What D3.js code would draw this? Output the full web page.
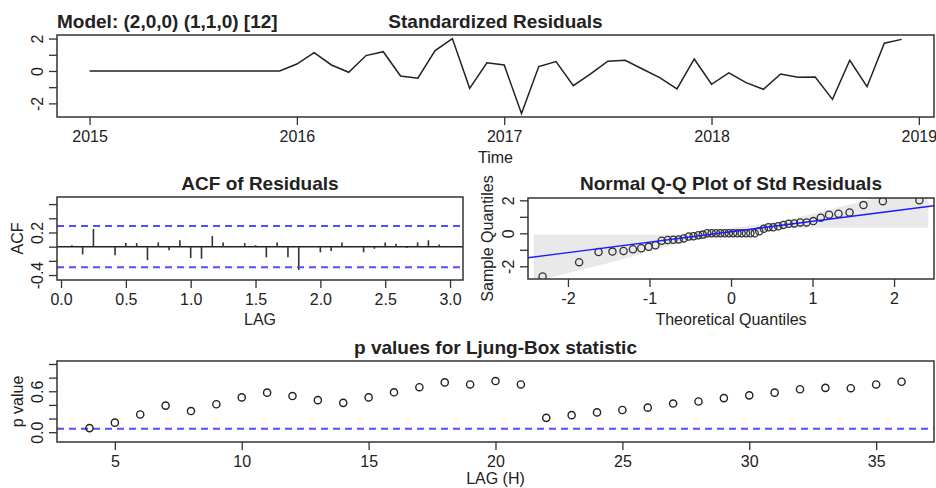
<!DOCTYPE html>
<html>
<head>
<meta charset="utf-8">
<script src="https://cdn.jsdelivr.net/npm/d3@7"></script>
<style>
  body { margin: 0; background: #fff; }
  text { font-family: 'Liberation Sans', Arial, Helvetica, sans-serif; fill: #222; }
</style>
</head>
<body>
<script>
// standardized residuals, monthly from 2015
const startYear = 2015
const resid = [0, 0, 0, 0, 0, 0, 0, 0, 0, 0, 0, 0,
  0.43, 1.13, 0.37, -0.08, 0.95, 1.19, -0.31, -0.45, 1.26, 2.0, -1.07, 0.51,
  0.37, -2.62, 0.27, 0.58, -0.91, -0.18, 0.6, 0.66, 0.12, -0.41, -1.11, 0.74,
  -0.82, -0.12, -0.72, -1.13, -0.19, -0.39, -0.37, -1.75, 0.66, -0.97, 1.71, 1.95]
const yearTicks = [2015, 2016, 2017, 2018, 2019]

// ACF of residuals, lags 1..36 (in years)
const acfVals = [0.02, -0.11, 0.25, 0.01, -0.12, 0.05, 0.05, -0.19, 0.06, -0.05, 0.09, -0.16,
  -0.17, 0.15, 0.06, 0.01, 0.05, 0.02, -0.15, 0.06, -0.15, -0.33, 0.01, -0.08,
  -0.06, 0.06, 0.01, -0.08, -0.03, 0.06, 0.04, -0.02, 0.06, 0.09, 0.03, 0.01]
const acfBound = 0.29
const acfTicks = [0, 0.5, 1, 1.5, 2, 2.5, 3]

// Q-Q line and band
const qqIntercept = 0.095
const qqSlope = 0.633
const bandZ = [-2.42, -2.0, -1.5, -1.0, -0.6, -0.3, 0, 0.3, 0.6, 1.0, 1.5, 2.0, 2.42]
const bandUpper = [-0.08, -0.08, -0.09, -0.09, -0.07, 0.13, 0.32, 0.51, 0.72, 1.17, 1.8, 2.4, 2.95]
const bandLower = [-2.95, -2.4, -1.8, -1.1, -0.52, -0.32, -0.13, 0.07, 0.3, 0.33, 0.33, 0.33, 0.34]

// Ljung-Box p values, lags 4..36
const lbLags = d3.range(4, 37)
const lbP = [0.06, 0.14, 0.26, 0.39, 0.31, 0.41, 0.51, 0.58, 0.53, 0.47, 0.43, 0.51, 0.585,
  0.66, 0.73, 0.70, 0.75, 0.70, 0.21, 0.25, 0.29, 0.325, 0.36, 0.42, 0.45, 0.50,
  0.54, 0.58, 0.63, 0.65, 0.645, 0.70, 0.74]
const lbAlpha = 0.05
const lbTicks = [5, 10, 15, 20, 25, 30, 35]

const width = 936
const height = 488
const tickLen = 8
const dashBlue = 'rgb(80,80,255)'

let svg = d3.select('body').append('svg')
.attr('width', width)
.attr('height', height)

// plain hyphen minus, like R
const num = d => String(d)
const num1 = d => d.toFixed(1)

// inverse normal cdf (Acklam) for theoretical quantiles
const qnorm = p => {
  const a = [-39.69683028665376, 220.9460984245205, -275.9285104469687, 138.3577518672690, -30.66479806614716, 2.506628277459239]
  const b = [-54.47609879822406, 161.5858368580409, -155.6989798598866, 66.80131188771972, -13.28068155288572]
  const c = [-0.007784894002430293, -0.3223964580411365, -2.400758277161838, -2.549732539343734, 4.374664141464968, 2.938163982698783]
  const d = [0.007784695709041462, 0.3224671290700398, 2.445134137142996, 3.754408661907416]
  const pl = 0.02425
  let q, r
  if (p < pl) {
    q = Math.sqrt(-2 * Math.log(p))
    return (((((c[0]*q+c[1])*q+c[2])*q+c[3])*q+c[4])*q+c[5]) / ((((d[0]*q+d[1])*q+d[2])*q+d[3])*q+1)
  }
  if (p > 1 - pl) {
    q = Math.sqrt(-2 * Math.log(1 - p))
    return -(((((c[0]*q+c[1])*q+c[2])*q+c[3])*q+c[4])*q+c[5]) / ((((d[0]*q+d[1])*q+d[2])*q+d[3])*q+1)
  }
  q = p - 0.5
  r = q * q
  return (((((a[0]*r+a[1])*r+a[2])*r+a[3])*r+a[4])*r+a[5])*q / (((((b[0]*r+b[1])*r+b[2])*r+b[3])*r+b[4])*r+1)
}

const panel = (id, x0, x1, y0, y1) => {
  svg.append('clipPath').attr('id', id)
  .append('rect').attr('x', x0).attr('y', y0).attr('width', x1 - x0).attr('height', y1 - y0)
  return svg.append('g').attr('clip-path', 'url(#' + id + ')')
}

const box = (x0, x1, y0, y1) => {
  svg.append('rect')
  .attr('x', x0).attr('y', y0)
  .attr('width', x1 - x0).attr('height', y1 - y0)
  .attr('fill', 'none')
  .attr('stroke', '#333')
  .attr('stroke-width', 1.5)
}

const bottomAxis = (scale, ticks, fmt, yPos) => {
  let g = svg.append('g')
  .attr('transform', 'translate(0,' + yPos + ')')
  .call(d3.axisBottom(scale).tickValues(ticks).tickSize(tickLen).tickPadding(6).tickFormat(fmt))
  g.select('.domain').remove()
  g.selectAll('line').attr('stroke', '#333').attr('stroke-width', 1.3)
  g.selectAll('text').attr('font-size', 16).attr('fill', '#222').attr('font-family', null)
  return g
}

const leftAxis = (scale, ticks, labelled, fmt, xPos) => {
  let g = svg.append('g')
  .attr('transform', 'translate(' + xPos + ',0)')
  .call(d3.axisLeft(scale).tickValues(ticks).tickSize(tickLen)
    .tickFormat(d => labelled.includes(d) ? fmt(d) : ''))
  g.select('.domain').remove()
  g.selectAll('line').attr('stroke', '#333').attr('stroke-width', 1.3)
  g.selectAll('text')
  .attr('font-size', 16).attr('fill', '#222').attr('font-family', null)
  .attr('x', 0).attr('y', -14).attr('dy', 0)
  .attr('text-anchor', 'middle')
  .attr('transform', 'rotate(-90)')
  return g
}

const label = (txt, x, y, opts = {}) => {
  let t = svg.append('text')
  .attr('x', x).attr('y', y)
  .attr('font-size', opts.size || 16)
  .attr('font-weight', opts.bold ? 'bold' : 'normal')
  .attr('text-anchor', opts.anchor || 'middle')
  .text(txt)
  if (opts.rotate) t.attr('transform', 'rotate(-90,' + x + ',' + y + ')')
  return t
}

const hline = (g, scaleX, yVal, dashed, color) => {
  g.append('line')
  .attr('x1', scaleX.range()[0]).attr('x2', scaleX.range()[1])
  .attr('y1', yVal).attr('y2', yVal)
  .attr('stroke', color)
  .attr('stroke-width', dashed ? 2 : 1.5)
  .attr('stroke-dasharray', dashed ? '7,5' : null)
}

// ---------- standardized residuals ----------
let x1 = d3.scaleLinear().domain([2014.843, 2019.073]).range([57, 934])
let y1 = d3.scaleLinear().domain([-2.84, 2.22]).range([117, 35])

let g1 = panel('c1', 57, 934, 35, 117)
g1.append('path')
.datum(resid)
.attr('d', d3.line().x((d, i) => x1(startYear + i / 12)).y(d => y1(d)))
.attr('fill', 'none')
.attr('stroke', '#222')
.attr('stroke-width', 1.5)

box(57, 934, 35, 117)
bottomAxis(x1, yearTicks, num, 117)
leftAxis(y1, [-2, -1, 0, 1, 2], [-2, 0, 2], num, 57)
label('Model: (2,0,0) (1,1,0) [12]', 57, 28, {bold: true, size: 19, anchor: 'start'})
label('Standardized Residuals', 495.5, 28, {bold: true, size: 19})
label('Time', 495.5, 163)

// ---------- ACF ----------
let x2 = d3.scaleLinear().domain([-0.031, 3.1]).range([57, 463])
let y2 = d3.scaleLinear().domain([-0.47, 0.70]).range([280, 197])

let g2 = panel('c2', 57, 463, 197, 280)
hline(g2, x2, y2(0), false, '#222')
g2.selectAll('.acf')
.data(acfVals)
.enter()
.append('line')
.attr('x1', (d, i) => x2((i + 1) / 12))
.attr('x2', (d, i) => x2((i + 1) / 12))
.attr('y1', y2(0))
.attr('y2', d => y2(d))
.attr('stroke', '#333')
.attr('stroke-width', 1.6)
hline(g2, x2, y2(acfBound), true, dashBlue)
hline(g2, x2, y2(-acfBound), true, dashBlue)

box(57, 463, 197, 280)
bottomAxis(x2, acfTicks, num1, 280)
leftAxis(y2, [-0.4, -0.2, 0, 0.2, 0.4, 0.6], [-0.4, 0.2], num1, 57)
label('ACF of Residuals', 260, 190, {bold: true, size: 19})
label('LAG', 260, 325)
label('ACF', 23, 238.5, {rotate: true})

// ---------- Normal Q-Q ----------
let x3 = d3.scaleLinear().domain([-2.49, 2.49]).range([528, 934])
let y3 = d3.scaleLinear().domain([-2.77, 2.14]).range([279, 198])

const sorted = resid.slice().sort(d3.ascending)
const n = sorted.length
const qq = sorted.map((v, i) => ({z: qnorm((i + 1 - 0.5) / n), v: v}))

let g3 = panel('c3', 528, 934, 198, 279)
g3.append('path')
.datum(bandZ.map((z, i) => ({z: z, lo: bandLower[i], hi: bandUpper[i]})))
.attr('d', d3.area().x(d => x3(d.z)).y0(d => y3(d.lo)).y1(d => y3(d.hi)))
.attr('fill', '#e9e9e9')

g3.selectAll('circle')
.data(qq)
.enter()
.append('circle')
.attr('cx', d => x3(d.z))
.attr('cy', d => y3(d.v))
.attr('r', 3.6)
.attr('fill', 'none')
.attr('stroke', '#333')
.attr('stroke-width', 1.3)

g3.append('line')
.attr('x1', x3(-2.49)).attr('x2', x3(2.49))
.attr('y1', y3(qqIntercept + qqSlope * -2.49))
.attr('y2', y3(qqIntercept + qqSlope * 2.49))
.attr('stroke', '#1a1aff')
.attr('stroke-width', 1.3)

box(528, 934, 198, 279)
bottomAxis(x3, [-2, -1, 0, 1, 2], num, 279)
leftAxis(y3, [-2, -1, 0, 1, 2], [-2, 0, 2], num, 528)
label('Normal Q-Q Plot of Std Residuals', 731, 190, {bold: true, size: 19})
label('Theoretical Quantiles', 731, 325)
label('Sample Quantiles', 493, 238.5, {rotate: true})

// ---------- Ljung-Box ----------
let x4 = d3.scaleLinear().domain([2.72, 37.28]).range([57, 934])
let y4 = d3.scaleLinear().domain([-0.144, 1.044]).range([442, 361])

let g4 = panel('c4', 57, 934, 361, 442)
hline(g4, x4, y4(lbAlpha), true, dashBlue)
g4.selectAll('circle')
.data(lbP)
.enter()
.append('circle')
.attr('cx', (d, i) => x4(lbLags[i]))
.attr('cy', d => y4(d))
.attr('r', 3.6)
.attr('fill', 'none')
.attr('stroke', '#222')
.attr('stroke-width', 1.4)

box(57, 934, 361, 442)
bottomAxis(x4, lbTicks, num, 442)
leftAxis(y4, [0, 0.2, 0.4, 0.6, 0.8, 1.0], [0, 0.6], num1, 57)
label('p values for Ljung-Box statistic', 495.5, 354, {bold: true, size: 19})
label('LAG (H)', 495.5, 484)
label('p value', 23, 401.5, {rotate: true})
</script>
</body>
</html>
